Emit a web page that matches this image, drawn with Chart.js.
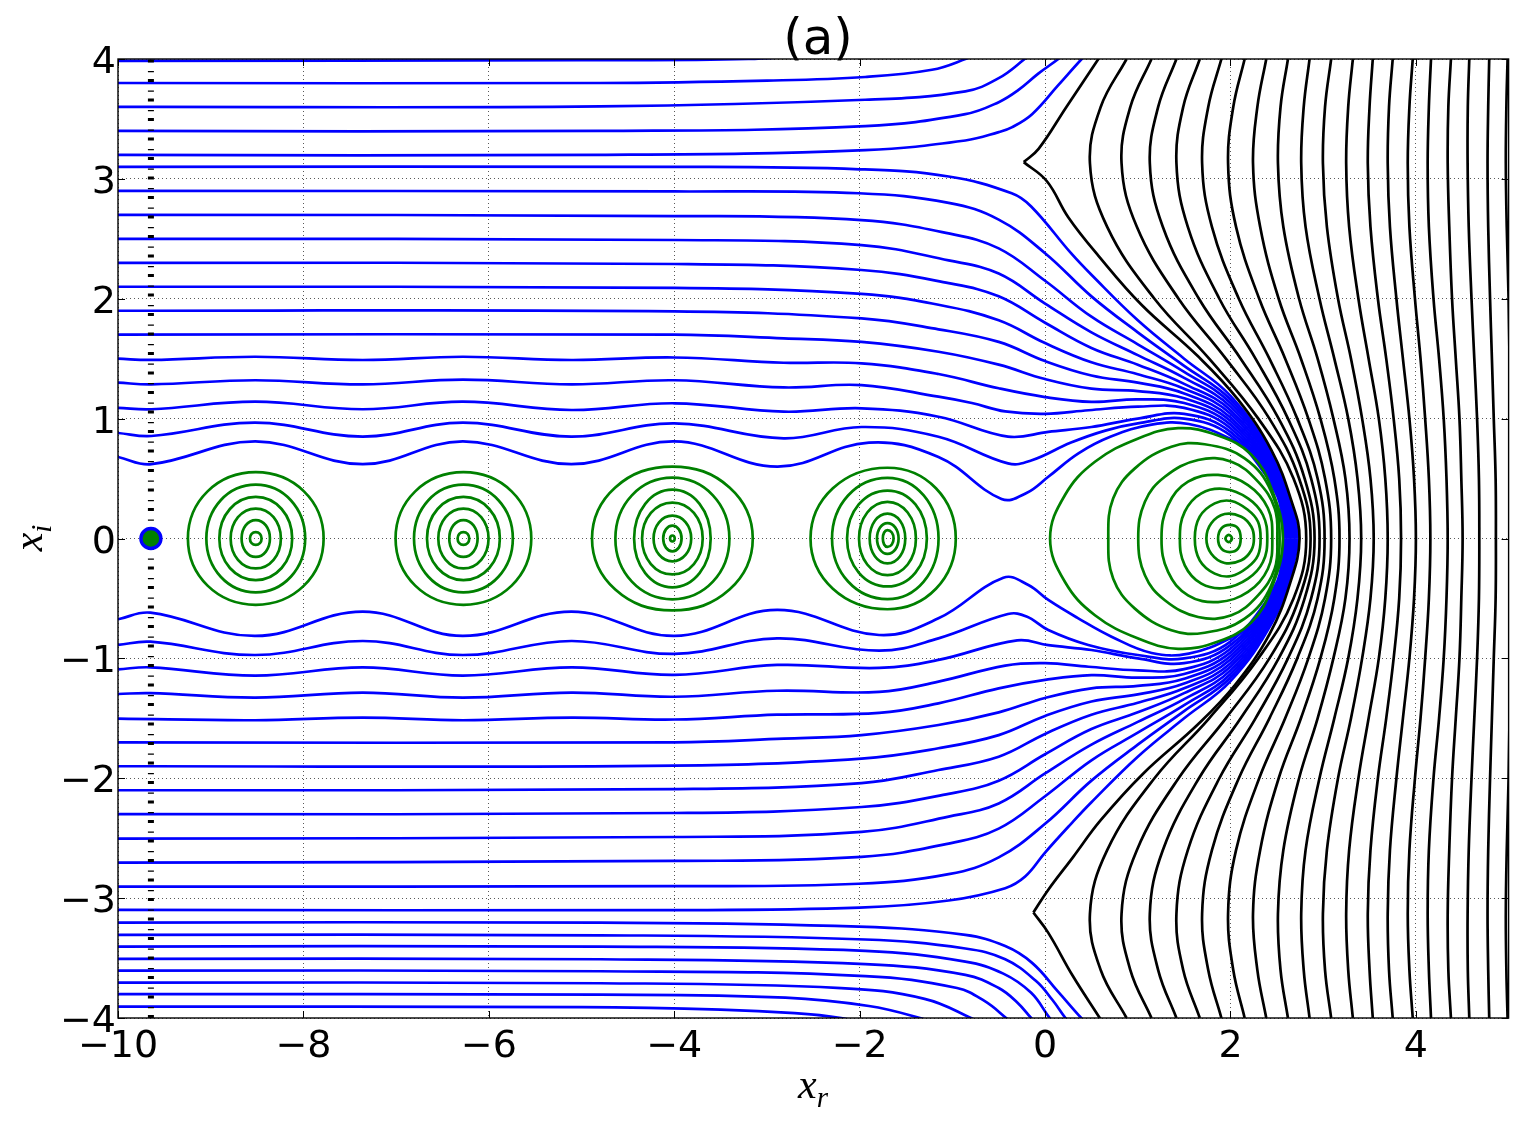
<!DOCTYPE html>
<html>
<head>
<meta charset="utf-8">
<script src="https://cdn.jsdelivr.net/npm/chart.js@4.4.1/dist/chart.umd.min.js"></script>
<style>
  html, body { margin: 0; padding: 0; background: #fff; }
  #wrap { width: 1522px; height: 1122px; }
</style>
</head>
<body>
<div id="wrap"><canvas id="trajectoires" width="1522" height="1122"></canvas></div>
<script>
// axes
var xTicks = [-10, -8, -6, -4, -2, 0, 2, 4];
var xTickLabels = ['\u221210', '\u22128', '\u22126', '\u22124', '\u22122', '0', '2', '4'];
var yTicks = [-4, -3, -2, -1, 0, 1, 2, 3, 4];
var yTickLabels = ['\u22124', '\u22123', '\u22122', '\u22121', '0', '1', '2', '3', '4'];
var titre = '(a)';

// point de depart et ligne pointillee verticale
var startX = -9.645;
var startY = 0;

// trajectoires bleues du haut : x,y,x,y,...
var blueUpper = [
  [-10,3.985, -5,3.99, -3.2,4.0, -2.4,4.04],
  [-10,3.80, -4.8,3.80, -3.0,3.82, -1.94,3.85, -1.22,3.91, -0.86,4.0, -0.7,4.06],
  [-10,3.60, -4.8,3.605, -1.94,3.66, -0.86,3.73, -0.5,3.84, -0.22,4.0, -0.1,4.08],
  [-10,3.40, -4.8,3.40, -1.94,3.44, -0.86,3.54, -0.5,3.64, -0.29,3.74, -0.07,3.88, 0.143,4.0, 0.25,4.07],
  [-10,3.20, -4.8,3.20, -1.94,3.24, -0.86,3.32, -0.5,3.39, -0.36,3.43, -0.14,3.54, 0.14,3.78, 0.395,4.0, 0.5,4.08],
  [-10,3.10, -4,3.10, -2,3.08, -1.04,3.02, -0.36,2.88, -0.15,2.77, 0.28,2.38, 0.5,2.2, 1.0,1.82, 1.5,1.50, 2.0,1.19, 2.45,0.70, 2.65,0.3, 2.74,0],
  [-10,2.90, -4,2.895, -2.01,2.88, -1.04,2.80, -0.5,2.66, 0.0,2.38, 0.5,2.02, 1.0,1.72, 1.5,1.44, 2.0,1.16, 2.45,0.68, 2.64,0.3, 2.727,0],
  [-10,2.70, -4,2.69, -1.98,2.656, -1.04,2.545, -0.5,2.42, 0.0,2.15, 0.5,1.85, 1.0,1.62, 1.5,1.39, 2.0,1.13, 2.45,0.655, 2.63,0.3, 2.713,0],
  [-10,2.50, -4,2.49, -1.98,2.448, -1.04,2.32, -0.5,2.21, 0.0,1.96, 0.5,1.72, 1.0,1.53, 1.5,1.34, 2.0,1.10, 2.45,0.63, 2.62,0.3, 2.70,0],
  [-10,2.30, -4,2.29, -1.98,2.24, -1.04,2.13, -0.5,2.02, 0.0,1.80, 0.5,1.59, 1.0,1.45, 1.5,1.29, 2.0,1.07, 2.45,0.605, 2.61,0.3, 2.687,0],
  [-10,2.10, -4,2.09, -1.98,2.04, -1.15,1.95, -0.5,1.82, 0.0,1.63, 0.5,1.47, 1.0,1.37, 1.5,1.25, 2.0,1.04, 2.45,0.58, 2.60,0.3, 2.673,0],
  [-10,1.90, -4,1.895, -1.98,1.836, -1.15,1.745, -0.5,1.64, 0.0,1.48, 0.5,1.36, 1.0,1.30, 1.5,1.21, 2.0,1.01, 2.45,0.56, 2.59,0.3, 2.66,0],
  [-10,1.70, -4,1.70, -2.82,1.67, -1.98,1.64, -1.15,1.558, -0.5,1.45, 0.0,1.33, 0.5,1.25, 1.0,1.23, 1.5,1.17, 2.0,0.98, 2.45,0.54, 2.58,0.3, 2.647,0],
  [-10,1.50, -9.64,1.49, -8.52,1.516, -7.36,1.489, -6.28,1.516, -5.11,1.489, -4.0,1.51, -2.82,1.466, -1.98,1.461, -1.15,1.372, -0.5,1.253, 0.0,1.18, 0.5,1.14, 1.0,1.16, 1.5,1.13, 2.0,0.95, 2.45,0.52, 2.57,0.3, 2.633,0],
  [-10,1.30, -9.64,1.286, -8.52,1.32, -7.36,1.286, -6.28,1.325, -5.11,1.286, -4.0,1.32, -2.82,1.26, -1.98,1.28, -1.15,1.183, -0.79,1.13, -0.43,1.06, 0.0,1.04, 0.47,1.07, 1.0,1.10, 1.5,1.09, 2.0,0.92, 2.45,0.50, 2.56,0.3, 2.62,0],
  [-10,1.09, -9.64,1.078, -8.52,1.141, -7.36,1.078, -6.28,1.141, -5.11,1.072, -4.0,1.128, -2.82,1.058, -1.98,1.086, -1.15,1.016, -0.4,0.85, 0.035,0.89, 0.5,0.93, 1.0,1.0, 1.5,1.04, 2.0,0.89, 2.45,0.48, 2.55,0.3, 2.607,0],
  [-10,0.88, -9.64,0.855, -8.52,0.966, -7.36,0.85, -6.28,0.966, -5.11,0.85, -4.0,0.96, -2.82,0.836, -1.98,0.93, -1.15,0.849, -0.4,0.627, -0.15,0.65, 0.28,0.80, 0.65,0.90, 1.0,0.96, 1.5,1.0, 2.0,0.86, 2.45,0.455, 2.54,0.3, 2.593,0],
  [-10,0.68, -9.64,0.62, -8.52,0.81, -7.36,0.62, -6.28,0.81, -5.11,0.62, -4.0,0.81, -2.89,0.60, -1.90,0.80, -1.15,0.68, -0.47,0.33, -0.2,0.38, 0.035,0.515, 0.36,0.71, 0.71,0.85, 1.15,0.95, 1.55,0.955, 2.0,0.83, 2.3,0.66, 2.45,0.44, 2.53,0.3, 2.58,0]
];

// trajectoires bleues du bas
var blueLower = [
  [-10,-3.905, -5,-3.91, -3.5,-3.93, -2.7,-3.96, -2.2,-4.0, -2.0,-4.04],
  [-10,-3.80, -4.8,-3.805, -2.8,-3.83, -1.9,-3.90, -1.35,-4.0, -1.15,-4.06],
  [-10,-3.705, -4.8,-3.71, -2.2,-3.75, -1.3,-3.84, -0.8,-4.0, -0.65,-4.07],
  [-10,-3.605, -4.8,-3.61, -1.94,-3.65, -0.95,-3.75, -0.65,-3.86, -0.42,-4.0, -0.3,-4.08],
  [-10,-3.507, -4.8,-3.51, -1.94,-3.55, -0.86,-3.64, -0.5,-3.75, -0.3,-3.87, -0.15,-4.0, -0.05,-4.08],
  [-10,-3.404, -4.8,-3.405, -1.94,-3.44, -0.86,-3.53, -0.45,-3.63, -0.15,-3.79, 0.05,-4.0, 0.15,-4.09],
  [-10,-3.307, -4.8,-3.31, -1.94,-3.345, -0.86,-3.42, -0.43,-3.51, -0.1,-3.69, 0.08,-3.85, 0.22,-4.0, 0.32,-4.09],
  [-10,-3.204, -4.8,-3.205, -2.01,-3.238, -0.86,-3.307, -0.43,-3.40, -0.14,-3.54, 0.14,-3.78, 0.39,-4.0, 0.5,-4.09],
  [-10,-3.098, -4,-3.10, -2,-3.08, -1.04,-3.02, -0.43,-2.917, -0.215,-2.82, 0.0,-2.62, 0.28,-2.38, 0.5,-2.2, 1.0,-1.82, 1.5,-1.50, 2.0,-1.19, 2.45,-0.70, 2.65,-0.3, 2.74,0],
  [-10,-2.904, -4,-2.90, -2.01,-2.88, -1.04,-2.80, -0.5,-2.66, 0.0,-2.38, 0.5,-2.02, 1.0,-1.72, 1.5,-1.44, 2.0,-1.16, 2.45,-0.68, 2.64,-0.3, 2.727,0],
  [-10,-2.704, -4,-2.69, -1.98,-2.656, -1.04,-2.545, -0.5,-2.42, 0.0,-2.15, 0.5,-1.85, 1.0,-1.62, 1.5,-1.39, 2.0,-1.13, 2.45,-0.655, 2.63,-0.3, 2.713,0],
  [-10,-2.503, -4,-2.49, -1.98,-2.448, -1.04,-2.32, -0.5,-2.21, 0.0,-1.96, 0.5,-1.72, 1.0,-1.53, 1.5,-1.34, 2.0,-1.10, 2.45,-0.63, 2.62,-0.3, 2.70,0],
  [-10,-2.30, -4,-2.29, -1.98,-2.24, -1.04,-2.13, -0.5,-2.02, 0.0,-1.80, 0.5,-1.59, 1.0,-1.45, 1.5,-1.29, 2.0,-1.07, 2.45,-0.605, 2.61,-0.3, 2.687,0],
  [-10,-2.10, -4,-2.09, -1.98,-2.04, -1.15,-1.931, -0.5,-1.82, 0.0,-1.63, 0.5,-1.47, 1.0,-1.37, 1.5,-1.25, 2.0,-1.04, 2.45,-0.58, 2.60,-0.3, 2.673,0],
  [-10,-1.90, -4,-1.895, -1.98,-1.836, -1.15,-1.75, -0.5,-1.64, 0.0,-1.48, 0.5,-1.36, 1.0,-1.30, 1.5,-1.21, 2.0,-1.01, 2.45,-0.56, 2.59,-0.3, 2.66,0],
  [-10,-1.70, -4,-1.70, -2.82,-1.67, -1.98,-1.64, -1.15,-1.556, -0.5,-1.45, 0.0,-1.33, 0.5,-1.25, 1.0,-1.23, 1.5,-1.17, 2.0,-0.98, 2.45,-0.54, 2.58,-0.3, 2.647,0],
  [-10,-1.503, -8.52,-1.516, -7.36,-1.494, -6.28,-1.516, -5.11,-1.494, -4.0,-1.51, -2.89,-1.47, -1.79,-1.455, -1.15,-1.375, -0.5,-1.25, 0.0,-1.18, 0.5,-1.14, 1.0,-1.16, 1.5,-1.13, 2.0,-0.95, 2.45,-0.52, 2.57,-0.3, 2.633,0],
  [-10,-1.297, -9.65,-1.29, -8.52,-1.328, -7.36,-1.286, -6.28,-1.328, -5.11,-1.286, -4.0,-1.32, -2.89,-1.27, -1.79,-1.28, -1.15,-1.194, -0.43,-1.06, 0.0,-1.04, 0.47,-1.07, 1.0,-1.10, 1.5,-1.09, 2.0,-0.92, 2.45,-0.50, 2.56,-0.3, 2.62,0],
  [-10,-1.091, -9.65,-1.075, -8.52,-1.144, -7.36,-1.075, -6.28,-1.144, -5.11,-1.075, -4.0,-1.138, -2.89,-1.055, -1.79,-1.08, -1.15,-1.013, -0.3,-0.85, 0.035,-0.89, 0.5,-0.93, 1.0,-1.0, 1.5,-1.04, 2.0,-0.89, 2.45,-0.48, 2.55,-0.3, 2.607,0],
  [-10,-0.888, -9.65,-0.861, -8.52,-0.972, -7.36,-0.855, -6.28,-0.972, -5.11,-0.855, -4.0,-0.963, -2.89,-0.833, -1.79,-0.936, -1.15,-0.833, -0.4,-0.63, -0.2,-0.65, 0.035,-0.763, 0.466,-0.888, 1.0,-0.972, 1.5,-1.0, 2.0,-0.86, 2.45,-0.455, 2.54,-0.3, 2.593,0],
  [-10,-0.674, -9.65,-0.619, -8.52,-0.813, -7.36,-0.61, -6.28,-0.813, -5.11,-0.61, -4.0,-0.813, -2.89,-0.596, -1.79,-0.805, -1.15,-0.666, -0.45,-0.327, -0.18,-0.388, 0.035,-0.513, 0.358,-0.666, 0.717,-0.819, 1.15,-0.955, 1.55,-0.96, 2.0,-0.83, 2.3,-0.66, 2.45,-0.44, 2.53,-0.3, 2.58,0]
];

// separatrice noire (trois morceaux, pointes a y = 3.14 et y = -3.12)
var separatrix = [
  [0.65,4.09, 0.575,4.0, 0.23,3.6, -0.07,3.25, -0.23,3.14],
  [-0.23,3.14, 0.02,2.98, 0.25,2.68, 0.574,2.36, 1.04,1.95, 1.65,1.52, 2.08,1.16, 2.44,0.74, 2.655,0.32, 2.745,0,
   2.64,-0.38, 2.42,-0.8, 2.05,-1.22, 1.65,-1.55, 1.06,-1.96, 0.6,-2.35, 0.3,-2.66, 0.035,-2.93, -0.126,-3.12],
  [-0.126,-3.12, 0.035,-3.29, 0.30,-3.65, 0.59,-4.0, 0.66,-4.09]
];

// courbes noires de droite : x lu a chaque niveau de blackLevels
var blackLevels = [4, 3.6, 3.13, 2.6, 2, 1.5, 1, 0.5, 0, -0.5, -1, -1.5, -2, -2.6, -3.13, -3.6, -4];
var blackCurves = [
  [0.879, 0.60, 0.484, 0.67, 1.18, 1.77, 2.30, 2.68, 2.817, 2.68, 2.30, 1.77, 1.18, 0.67, 0.484, 0.60, 0.879],
  [1.148, 0.92, 0.825, 0.99, 1.44, 1.95, 2.42, 2.74, 2.864, 2.74, 2.42, 1.95, 1.44, 0.99, 0.825, 0.92, 1.148],
  [1.417, 1.22, 1.13, 1.27, 1.66, 2.11, 2.52, 2.80, 2.907, 2.80, 2.52, 2.11, 1.66, 1.27, 1.13, 1.22, 1.417],
  [1.669, 1.49, 1.417, 1.54, 1.88, 2.27, 2.62, 2.87, 2.961, 2.87, 2.62, 2.27, 1.88, 1.54, 1.417, 1.49, 1.669],
  [1.902, 1.76, 1.694, 1.80, 2.09, 2.42, 2.72, 2.94, 3.015, 2.94, 2.72, 2.42, 2.09, 1.80, 1.694, 1.76, 1.902],
  [2.153, 2.03, 1.974, 2.06, 2.31, 2.59, 2.84, 3.02, 3.086, 3.02, 2.84, 2.59, 2.31, 2.06, 1.974, 2.03, 2.153],
  [2.386, 2.29, 2.243, 2.32, 2.52, 2.76, 2.97, 3.12, 3.176, 3.12, 2.97, 2.76, 2.52, 2.32, 2.243, 2.29, 2.386],
  [2.62, 2.54, 2.512, 2.57, 2.74, 2.94, 3.11, 3.24, 3.284, 3.24, 3.11, 2.94, 2.74, 2.57, 2.512, 2.54, 2.62],
  [2.853, 2.79, 2.763, 2.81, 2.96, 3.12, 3.27, 3.37, 3.41, 3.37, 3.27, 3.12, 2.96, 2.81, 2.763, 2.79, 2.853],
  [3.086, 3.02, 2.997, 3.04, 3.16, 3.30, 3.42, 3.51, 3.545, 3.51, 3.42, 3.30, 3.16, 3.04, 2.997, 3.02, 3.086],
  [3.32, 3.27, 3.248, 3.28, 3.38, 3.49, 3.60, 3.67, 3.696, 3.67, 3.60, 3.49, 3.38, 3.28, 3.248, 3.27, 3.32],
  [3.535, 3.50, 3.481, 3.51, 3.59, 3.68, 3.76, 3.82, 3.84, 3.82, 3.76, 3.68, 3.59, 3.51, 3.481, 3.50, 3.535],
  [3.75, 3.71, 3.696, 3.72, 3.79, 3.86, 3.93, 3.98, 4.00, 3.98, 3.93, 3.86, 3.79, 3.72, 3.696, 3.71, 3.75],
  [3.966, 3.93, 3.912, 3.93, 3.99, 4.05, 4.10, 4.14, 4.156, 4.14, 4.10, 4.05, 3.99, 3.93, 3.912, 3.93, 3.966],
  [4.163, 4.14, 4.127, 4.14, 4.19, 4.25, 4.30, 4.33, 4.343, 4.33, 4.30, 4.25, 4.19, 4.14, 4.127, 4.14, 4.163],
  [4.378, 4.35, 4.343, 4.36, 4.39, 4.43, 4.47, 4.49, 4.504, 4.49, 4.47, 4.43, 4.39, 4.36, 4.343, 4.35, 4.378],
  [4.576, 4.56, 4.558, 4.57, 4.60, 4.63, 4.66, 4.68, 4.684, 4.68, 4.66, 4.63, 4.60, 4.57, 4.558, 4.56, 4.576],
  [4.791, 4.78, 4.773, 4.78, 4.80, 4.82, 4.84, 4.86, 4.863, 4.86, 4.84, 4.82, 4.80, 4.78, 4.773, 4.78, 4.791],
  [4.989, 4.976, 4.97, 4.98, 5.0, 5.01, 5.03, 5.04, 5.04, 5.04, 5.03, 5.01, 5.0, 4.98, 4.97, 4.976, 4.989]
];

// orbites vertes fermees : x,y,x,y,... (la boucle est refermee au dessin)
var greenLoops = [
  [-9.246,0, -9.034,0.393, -8.514,0.553, -7.994,0.393, -7.782,0, -7.994,-0.393, -8.514,-0.553, -9.034,-0.393],
  [-9.047,0, -8.892,0.319, -8.514,0.449, -8.136,0.319, -7.981,0, -8.136,-0.319, -8.514,-0.449, -8.892,-0.319],
  [-8.907,0, -8.793,0.246, -8.514,0.347, -8.235,0.246, -8.121,0, -8.235,-0.246, -8.514,-0.347, -8.793,-0.246],
  [-8.785,0, -8.706,0.178, -8.514,0.25, -8.322,0.178, -8.243,0, -8.322,-0.178, -8.514,-0.25, -8.706,-0.178],
  [-8.667,0, -8.623,0.109, -8.514,0.154, -8.405,0.109, -8.361,0, -8.405,-0.109, -8.514,-0.154, -8.623,-0.109],
  [-8.577,0, -8.559,0.038, -8.514,0.053, -8.469,0.038, -8.451,0, -8.469,-0.038, -8.514,-0.053, -8.559,-0.038],

  [-7.006,0, -6.794,0.393, -6.274,0.553, -5.754,0.393, -5.542,0, -5.754,-0.393, -6.274,-0.553, -6.794,-0.393],
  [-6.807,0, -6.652,0.319, -6.274,0.449, -5.896,0.319, -5.741,0, -5.896,-0.319, -6.274,-0.449, -6.652,-0.319],
  [-6.667,0, -6.553,0.246, -6.274,0.347, -5.995,0.246, -5.881,0, -5.995,-0.246, -6.274,-0.347, -6.553,-0.246],
  [-6.545,0, -6.466,0.178, -6.274,0.25, -6.082,0.178, -6.003,0, -6.082,-0.178, -6.274,-0.25, -6.466,-0.178],
  [-6.427,0, -6.383,0.109, -6.274,0.154, -6.165,0.109, -6.121,0, -6.165,-0.109, -6.274,-0.154, -6.383,-0.109],
  [-6.337,0, -6.319,0.038, -6.274,0.053, -6.229,0.038, -6.211,0, -6.229,-0.038, -6.274,-0.053, -6.319,-0.038],

  [-4.887,0, -4.636,0.426, -4.02,0.60, -3.404,0.426, -3.153,0, -3.404,-0.426, -4.02,-0.60, -4.636,-0.426],
  [-4.635,0, -4.457,0.36, -4.02,0.507, -3.583,0.36, -3.405,0, -3.583,-0.36, -4.02,-0.507, -4.457,-0.36],
  [-4.433,0, -4.313,0.289, -4.02,0.407, -3.727,0.289, -3.607,0, -3.727,-0.289, -4.02,-0.407, -4.313,-0.289],
  [-4.347,0, -4.252,0.213, -4.02,0.30, -3.788,0.213, -3.693,0, -3.788,-0.213, -4.02,-0.30, -4.252,-0.213],
  [-4.223,0, -4.164,0.135, -4.02,0.19, -3.876,0.135, -3.817,0, -3.876,-0.135, -4.02,-0.19, -4.164,-0.135],
  [-4.119,0, -4.09,0.076, -4.02,0.107, -3.95,0.076, -3.921,0, -3.95,-0.076, -4.02,-0.107, -4.09,-0.076],
  [-4.045,0, -4.038,0.018, -4.02,0.025, -4.002,0.018, -3.995,0, -4.002,-0.018, -4.02,-0.025, -4.038,-0.018],

  [-2.53,0, -2.289,0.419, -1.70,0.59, -1.177,0.419, -0.963,0, -1.177,-0.419, -1.70,-0.59, -2.289,-0.419],
  [-2.298,0, -2.125,0.359, -1.70,0.506, -1.309,0.359, -1.149,0, -1.309,-0.359, -1.70,-0.506, -2.125,-0.359],
  [-2.136,0, -2.01,0.284, -1.70,0.40, -1.398,0.284, -1.275,0, -1.398,-0.284, -1.70,-0.40, -2.01,-0.284],
  [-2.007,0, -1.918,0.217, -1.70,0.306, -1.482,0.217, -1.393,0, -1.482,-0.217, -1.70,-0.306, -1.918,-0.217],
  [-1.892,0, -1.836,0.148, -1.70,0.208, -1.564,0.148, -1.508,0, -1.564,-0.148, -1.70,-0.208, -1.836,-0.148],
  [-1.813,0, -1.78,0.091, -1.70,0.128, -1.615,0.091, -1.58,0, -1.615,-0.091, -1.70,-0.128, -1.78,-0.091],
  [-1.75,0, -1.736,0.05, -1.70,0.07, -1.653,0.05, -1.634,0, -1.653,-0.05, -1.70,-0.07, -1.736,-0.05],

  [0.054,0, 0.215,0.363, 0.538,0.64, 1.005,0.835, 1.435,0.92, 1.866,0.86, 2.225,0.70, 2.44,0.42, 2.566,0,
   2.44,-0.42, 2.225,-0.70, 1.866,-0.86, 1.435,-0.92, 1.005,-0.835, 0.538,-0.64, 0.215,-0.363],
  [0.682,0, 0.735,0.335, 0.969,0.585, 1.363,0.766, 1.722,0.786, 2.153,0.669, 2.44,0.39, 2.53,0,
   2.44,-0.39, 2.153,-0.669, 1.722,-0.786, 1.363,-0.766, 0.969,-0.585, 0.735,-0.335],
  [1.005,0, 1.077,0.307, 1.292,0.515, 1.651,0.655, 2.01,0.64, 2.297,0.474, 2.477,0.252, 2.505,0,
   2.477,-0.252, 2.297,-0.474, 2.01,-0.64, 1.651,-0.655, 1.292,-0.515, 1.077,-0.307],
  [1.256,0, 1.327,0.279, 1.542,0.474, 1.866,0.53, 2.189,0.446, 2.404,0.252, 2.451,0,
   2.404,-0.252, 2.189,-0.446, 1.866,-0.53, 1.542,-0.474, 1.327,-0.279],
  [1.454,0, 1.507,0.224, 1.686,0.377, 1.937,0.413, 2.189,0.335, 2.35,0.196, 2.397,0,
   2.35,-0.196, 2.189,-0.335, 1.937,-0.413, 1.686,-0.377, 1.507,-0.224],
  [1.615,0, 1.668,0.182, 1.83,0.293, 2.01,0.313, 2.189,0.238, 2.297,0.14, 2.325,0,
   2.297,-0.14, 2.189,-0.238, 2.01,-0.313, 1.83,-0.293, 1.668,-0.182],
  [1.74,0, 1.793,0.127, 1.937,0.204, 2.117,0.182, 2.225,0.098, 2.253,0,
   2.225,-0.098, 2.117,-0.182, 1.937,-0.204, 1.793,-0.127],
  [1.866,0, 1.902,0.085, 1.992,0.113, 2.081,0.085, 2.11,0, 2.081,-0.085, 1.992,-0.113, 1.902,-0.085],
  [1.945,0, 1.981,0.03, 2.017,0, 1.981,-0.03]
];

var BLEU = '#0000ff', VERT = '#008000', NOIR = '#000000';
var EPAISSEUR = 2.7;

function enPoints(plat) {
  var pts = [];
  for (var i = 0; i < plat.length; i += 2) {
    pts.push({x: plat[i], y: plat[i + 1]});
  }
  return pts;
}

function courbe(pts, couleur, ordre, fermee) {
  return {
    data: pts,
    borderColor: couleur,
    borderWidth: EPAISSEUR,
    pointRadius: 0,
    tension: 0.4,
    fill: false,
    order: ordre,
    fermee: !!fermee
  };
}

var datasets = [];

// point de depart
datasets.push({
  data: [{x: startX, y: startY}],
  showLine: false,
  pointRadius: 10,
  pointBorderWidth: 3.4,
  pointBackgroundColor: VERT,
  pointBorderColor: BLEU,
  order: 0
});
// ligne verticale pointillee
datasets.push({
  data: [{x: startX, y: -4}, {x: startX, y: 4}],
  borderColor: NOIR,
  borderWidth: 6,
  borderDash: [3, 6.8, 1.3, 8.4],
  borderCapStyle: 'butt',
  pointRadius: 0,
  tension: 0,
  order: 1
});

greenLoops.forEach(function(l) { datasets.push(courbe(enPoints(l), VERT, 2, true)); });

blackCurves.forEach(function(xs) {
  var pts = xs.map(function(x, i) { return {x: x, y: blackLevels[i]}; });
  datasets.push(courbe(pts, NOIR, 3));
});
separatrix.forEach(function(s) { datasets.push(courbe(enPoints(s), NOIR, 3)); });

blueUpper.forEach(function(l) { datasets.push(courbe(enPoints(l), BLEU, 4)); });
blueLower.forEach(function(l) { datasets.push(courbe(enPoints(l), BLEU, 4)); });

// referme les orbites vertes (chemin lisse boucle)
var boucler = {
  id: 'boucler',
  afterDatasetsUpdate: function(chart) {
    chart.data.datasets.forEach(function(ds, i) {
      if (!ds.fermee) return;
      var ligne = chart.getDatasetMeta(i).dataset;
      if (!ligne) return;
      ligne._loop = true;
      ligne._fullLoop = true;
      ligne._segments = undefined;
      ligne._path = undefined;
      ligne._pointsUpdated = false;
    });
  }
};

// cadre, graduations internes, etiquettes et titre
var habillage = {
  id: 'habillage',
  afterDraw: function(chart) {
    var ctx = chart.ctx;
    var a = chart.chartArea;
    var sx = chart.scales.x, sy = chart.scales.y;
    ctx.save();

    ctx.strokeStyle = NOIR;
    ctx.lineWidth = 1;
    ctx.beginPath();
    xTicks.forEach(function(v) {
      var px = Math.round(sx.getPixelForValue(v)) + 0.5;
      ctx.moveTo(px, a.bottom); ctx.lineTo(px, a.bottom - 7);
      ctx.moveTo(px, a.top); ctx.lineTo(px, a.top + 7);
    });
    yTicks.forEach(function(v) {
      var py = Math.round(sy.getPixelForValue(v)) + 0.5;
      ctx.moveTo(a.left, py); ctx.lineTo(a.left + 7, py);
      ctx.moveTo(a.right, py); ctx.lineTo(a.right - 7, py);
    });
    ctx.stroke();

    ctx.lineWidth = 1.4;
    ctx.strokeRect(a.left, a.top, a.right - a.left, a.bottom - a.top);

    ctx.fillStyle = NOIR;
    ctx.font = '38px "DejaVu Sans"';
    ctx.textAlign = 'center';
    ctx.textBaseline = 'alphabetic';
    xTicks.forEach(function(v, i) {
      ctx.fillText(xTickLabels[i], sx.getPixelForValue(v), a.bottom + 39);
    });
    ctx.textAlign = 'right';
    yTicks.forEach(function(v, i) {
      ctx.fillText(yTickLabels[i], a.left - 2, sy.getPixelForValue(v) + 14);
    });

    ctx.textAlign = 'center';
    ctx.font = '50px "DejaVu Sans"';
    ctx.fillText(titre, 818, 54);

    // x_r
    ctx.textAlign = 'left';
    ctx.font = 'italic 42px "Liberation Serif"';
    var w1 = ctx.measureText('x').width;
    ctx.font = 'italic 29px "Liberation Serif"';
    var w2 = ctx.measureText('r').width;
    var x0 = 813 - (w1 + w2) / 2;
    ctx.font = 'italic 42px "Liberation Serif"';
    ctx.fillText('x', x0, 1098);
    ctx.font = 'italic 29px "Liberation Serif"';
    ctx.fillText('r', x0 + w1, 1107);

    // x_i
    ctx.translate(32, 538);
    ctx.rotate(-Math.PI / 2);
    ctx.font = 'italic 42px "Liberation Serif"';
    w1 = ctx.measureText('x').width;
    ctx.font = 'italic 29px "Liberation Serif"';
    w2 = ctx.measureText('i').width;
    x0 = -(w1 + w2) / 2;
    ctx.font = 'italic 42px "Liberation Serif"';
    ctx.fillText('x', x0, 10);
    ctx.font = 'italic 29px "Liberation Serif"';
    ctx.fillText('i', x0 + w1, 19);

    ctx.restore();
  }
};

var ctx = document.getElementById('trajectoires').getContext('2d');
var graphe = new Chart(ctx, {
  type: 'line',
  data: { datasets: datasets },
  options: {
    responsive: false,
    devicePixelRatio: 1,
    animation: false,
    events: [],
    layout: { padding: { left: 118, top: 59, right: 11, bottom: 104 } },
    plugins: {
      legend: { display: false },
      tooltip: { enabled: false },
      title: { display: false }
    },
    scales: {
      x: {
        type: 'linear',
        min: -10,
        max: 5,
        afterBuildTicks: function(s) { s.ticks = xTicks.map(function(v) { return {value: v}; }); },
        afterFit: function(s) { s.height = 0; },
        ticks: { display: false },
        grid: { color: 'rgba(0,0,0,0.65)', lineWidth: 1, drawTicks: false },
        border: { display: false, dash: [1, 3] }
      },
      y: {
        type: 'linear',
        min: -4,
        max: 4,
        afterBuildTicks: function(s) { s.ticks = yTicks.map(function(v) { return {value: v}; }); },
        afterFit: function(s) { s.width = 0; },
        ticks: { display: false },
        grid: { color: 'rgba(0,0,0,0.65)', lineWidth: 1, drawTicks: false },
        border: { display: false, dash: [1, 3] }
      }
    }
  },
  plugins: [boucler, habillage]
});
</script>
</body>
</html>
